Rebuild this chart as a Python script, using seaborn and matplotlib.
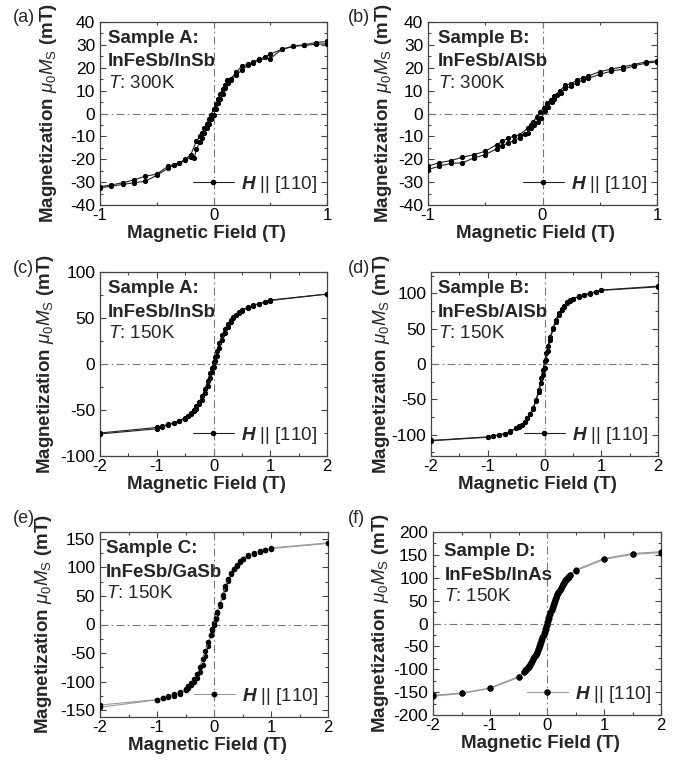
import pandas as pd
import seaborn as sns
import matplotlib.pyplot as plt
from matplotlib.lines import Line2D
from matplotlib.ticker import MultipleLocator

sns.set_style('ticks')
plt.rcParams['font.family'] = ['Liberation Sans', 'DejaVu Sans']
plt.rcParams['axes.unicode_minus'] = False
plt.rcParams['mathtext.fontset'] = 'custom'
plt.rcParams['mathtext.rm'] = 'Liberation Sans'
plt.rcParams['mathtext.it'] = 'Liberation Sans:italic'
plt.rcParams['mathtext.bf'] = 'Liberation Sans:bold'
plt.rcParams['mathtext.bfit'] = 'Liberation Sans:bold:italic'

# --- (a) Sample A, 300 K ---
H_a_dn = [1.0, 0.9, 0.8, 0.7, 0.6, 0.5, 0.45, 0.4, 0.35, 0.3, 0.25, 0.2, 0.15, 0.12, 0.1, 0.08, 0.06, 0.04, 0.02, 0.0,
          -0.02, -0.04, -0.06, -0.08, -0.1, -0.12, -0.15, -0.2, -0.25, -0.3, -0.35, -0.4, -0.5, -0.6, -0.7, -0.8, -0.9, -1.0]
M_a_dn = [31.5, 31.0, 30.0, 29.5, 28.0, 26.0, 24.5, 23.8, 22.5, 21.5, 20.8, 18.0, 15.0, 14.5, 12.5, 10.5, 8.5, 6.5, 4.0, 2.0,
          -0.5, -2.5, -4.5, -6.5, -8.5, -10.0, -12.0, -18.0, -20.0, -21.5, -22.3, -23.0, -26.5, -27.4, -29.0, -30.3, -31.2, -32.0]
H_a_up = [-1.0, -0.9, -0.8, -0.7, -0.6, -0.5, -0.4, -0.35, -0.3, -0.25, -0.2, -0.17, -0.15, -0.12, -0.1, -0.08, -0.06, -0.04, -0.02,
          0.0, 0.02, 0.04, 0.06, 0.08, 0.1, 0.13, 0.15, 0.2, 0.25, 0.3, 0.35, 0.4, 0.5, 0.6, 0.7, 0.8, 0.9, 1.0]
M_a_up = [-32.5, -31.8, -31.0, -30.3, -29.6, -27.0, -24.0, -22.5, -21.8, -20.5, -19.0, -19.4, -15.5, -12.5, -10.5, -8.5, -6.5, -4.5, -2.5,
          -0.5, 2.0, 4.5, 6.5, 8.5, 11.0, 13.5, 14.8, 16.8, 19.0, 21.0, 22.0, 23.5, 24.0, 28.0, 29.3, 29.8, 30.2, 30.5]

# --- (b) Sample B, 300 K ---
H_b_dn = [1.0, 0.9, 0.8, 0.7, 0.6, 0.5, 0.4, 0.35, 0.3, 0.25, 0.2, 0.15, 0.1, 0.07, 0.04, 0.01, -0.02, -0.05, -0.08, -0.1,
          -0.13, -0.2, -0.25, -0.3, -0.35, -0.4, -0.5, -0.6, -0.7, -0.8, -0.9, -1.0]
M_b_dn = [23.0, 22.6, 21.4, 20.4, 19.4, 18.3, 16.4, 15.6, 14.6, 13.0, 12.5, 9.8, 7.6, 6.0, 4.5, 2.5, 0.5, -1.5, -3.5, -5.0,
          -6.4, -9.3, -10.0, -10.7, -12.2, -13.6, -16.5, -18.0, -19.1, -20.6, -21.5, -23.0]
H_b_up = [-1.0, -0.9, -0.8, -0.7, -0.6, -0.5, -0.4, -0.35, -0.3, -0.25, -0.2, -0.15, -0.13, -0.1, -0.07, -0.04, -0.01,
          0.02, 0.05, 0.08, 0.1, 0.13, 0.16, 0.2, 0.25, 0.3, 0.35, 0.4, 0.5, 0.6, 0.7, 0.8, 0.9, 1.0]
M_b_up = [-24.5, -23.0, -21.8, -21.6, -19.4, -18.0, -15.4, -14.0, -13.0, -11.9, -10.5, -9.0, -8.5, -6.5, -5.0, -3.5, -2.0,
          1.0, 3.0, 5.0, 6.5, 8.0, 9.0, 11.0, 12.0, 13.5, 14.5, 15.4, 17.1, 18.5, 19.4, 20.8, 22.0, 22.5]

# --- (c) Sample A, 150 K ---
H_c_dn = [2.0, 1.0, 0.9, 0.8, 0.7, 0.6, 0.5, 0.45, 0.4, 0.35, 0.3, 0.25, 0.2, 0.15, 0.1, 0.06, 0.03, 0.0,
          -0.03, -0.06, -0.1, -0.15, -0.2, -0.25, -0.3, -0.35, -0.4, -0.45, -0.5, -0.6, -0.7, -0.8, -0.9, -1.0, -2.0]
M_c_dn = [76, 69.5, 67.5, 65.5, 64, 61.5, 59, 56, 53.5, 51, 48, 43, 38, 31, 22.5, 14, 8, 2,
          -4, -10, -18, -27, -35, -41, -46, -50, -53.5, -56, -58.5, -61.5, -64, -65.5, -67.5, -69, -75]
H_c_up = [-2.0, -1.0, -0.9, -0.8, -0.7, -0.6, -0.5, -0.45, -0.4, -0.35, -0.3, -0.25, -0.2, -0.15, -0.1, -0.06, -0.03, 0.0,
          0.03, 0.06, 0.1, 0.15, 0.2, 0.25, 0.3, 0.35, 0.4, 0.45, 0.5, 0.6, 0.7, 0.8, 0.9, 1.0, 2.0]
M_c_up = [-76, -70.5, -68, -66, -64.5, -62, -59.5, -57, -54, -51.5, -48.5, -44, -39, -32, -23.5, -15, -9, -3,
          3, 9, 17, 26, 34, 40.5, 45.5, 50, 53, 55.5, 58, 61, 63.5, 65.5, 67, 69, 76]

# --- (d) Sample B, 150 K ---
H_d_dn = [2.0, 1.0, 0.9, 0.8, 0.7, 0.6, 0.5, 0.45, 0.4, 0.35, 0.3, 0.25, 0.2, 0.15, 0.1, 0.06, 0.03, 0.0,
          -0.03, -0.06, -0.1, -0.15, -0.2, -0.25, -0.3, -0.35, -0.4, -0.45, -0.5, -0.6, -0.7, -0.8, -0.9, -1.0, -2.0]
M_d_dn = [110, 104.5, 102, 100, 98, 95.5, 92.5, 90, 87, 81.5, 77.5, 71.5, 62, 51, 38, 26, 15, 4,
          -8, -20, -37, -51, -62, -70, -76.5, -81.5, -85.5, -88, -90.5, -95, -98.5, -100, -101.5, -103, -108]
H_d_up = [-2.0, -1.0, -0.9, -0.8, -0.7, -0.6, -0.5, -0.45, -0.4, -0.35, -0.3, -0.25, -0.2, -0.15, -0.1, -0.06, -0.03, 0.0,
          0.03, 0.06, 0.1, 0.15, 0.2, 0.25, 0.3, 0.35, 0.4, 0.45, 0.5, 0.6, 0.7, 0.8, 0.9, 1.0, 2.0]
M_d_up = [-108.5, -103.5, -102, -100.5, -98.5, -95.5, -91, -88.5, -86, -82, -77, -71, -63, -52, -39, -27, -16, -5,
          6, 18, 34, 49, 60, 69, 76, 80.5, 86, 89, 92, 95, 97.5, 99.5, 101.5, 104, 109]

# --- (e) Sample C, 150 K ---
H_e_dn = [2.0, 1.0, 0.9, 0.8, 0.7, 0.6, 0.5, 0.45, 0.4, 0.35, 0.3, 0.25, 0.2, 0.15, 0.1, 0.06, 0.03, 0.0,
          -0.03, -0.06, -0.1, -0.15, -0.2, -0.25, -0.3, -0.35, -0.4, -0.45, -0.5, -0.6, -0.7, -0.8, -0.9, -1.0, -2.0]
M_e_dn = [143, 134, 131, 128.5, 125, 121.5, 115.5, 111, 104, 96.5, 89, 77, 62, 48, 33, 21, 11, 2,
          -8, -19, -37, -56, -71, -84, -94, -101, -106, -111, -115.5, -121.5, -124.5, -127, -129.5, -132, -145]
H_e_up = [-2.0, -1.0, -0.9, -0.8, -0.7, -0.6, -0.5, -0.45, -0.4, -0.35, -0.3, -0.25, -0.2, -0.15, -0.1, -0.06, -0.03, 0.0,
          0.03, 0.06, 0.1, 0.15, 0.2, 0.25, 0.3, 0.35, 0.4, 0.45, 0.5, 0.6, 0.7, 0.8, 0.9, 1.0, 2.0]
M_e_up = [-141, -131.5, -128, -125.5, -122.5, -119, -113, -108, -102, -95, -87, -75, -60, -46, -31, -19, -9, 0,
          10, 22, 36, 51, 68, 80, 90, 97, 103, 109, 114, 120.5, 124, 127, 130, 133, 142]

# --- (f) Sample D, 150 K ---
H_f_dn = [2.0, 1.5, 1.0, 0.5, 0.4, 0.38, 0.36, 0.34, 0.32, 0.3, 0.28, 0.26, 0.24, 0.22, 0.2, 0.18, 0.16, 0.14, 0.12, 0.1,
          0.08, 0.06, 0.04, 0.02, 0.0, -0.02, -0.04, -0.06, -0.08, -0.1, -0.12, -0.14, -0.16, -0.18, -0.2, -0.22, -0.24,
          -0.26, -0.28, -0.3, -0.32, -0.34, -0.36, -0.38, -0.4, -0.5, -1.0, -1.5, -2.0]
M_f_dn = [157, 153, 142, 117, 107, 104, 101, 98, 94.5, 91, 87, 83, 78.5, 74, 69, 64, 58.5, 52.5, 46.5, 40,
          33, 26, 18.5, 11, 3, -5, -13, -21, -29, -36.5, -43.5, -50, -56, -62, -67.5, -72.5, -77,
          -81.5, -85.5, -89, -92.5, -96, -99, -102, -105, -116, -141, -152, -157]
H_f_up = [-2.0, -1.5, -1.0, -0.5, -0.4, -0.38, -0.36, -0.34, -0.32, -0.3, -0.28, -0.26, -0.24, -0.22, -0.2, -0.18, -0.16,
          -0.14, -0.12, -0.1, -0.08, -0.06, -0.04, -0.02, 0.0, 0.02, 0.04, 0.06, 0.08, 0.1, 0.12, 0.14, 0.16, 0.18, 0.2,
          0.22, 0.24, 0.26, 0.28, 0.3, 0.32, 0.34, 0.36, 0.38, 0.4, 0.5, 1.0, 1.5, 2.0]
M_f_up = [-159, -153, -142, -118, -107, -104, -101, -98, -94.5, -91, -87, -83, -78.5, -74, -69, -64, -58.5,
          -52.5, -46.5, -40, -33, -26, -18.5, -11, -3, 5, 13, 21, 29, 36.5, 43.5, 50, 56, 62, 67.5,
          72.5, 77, 81.5, 85.5, 89, 92.5, 96, 99, 102, 105, 115, 140, 151, 155]

panel_tags = ['(a)', '(b)', '(c)', '(d)', '(e)', '(f)']
samples = ['Sample A:', 'Sample B:', 'Sample A:', 'Sample B:', 'Sample C:', 'Sample D:']
structures = ['InFeSb/InSb', 'InFeSb/AlSb', 'InFeSb/InSb', 'InFeSb/AlSb', 'InFeSb/GaSb', 'InFeSb/InAs']
temps = ['300K', '300K', '150K', '150K', '150K', '150K']
xlims = [(-1, 1), (-1, 1), (-2, 2), (-2, 2), (-2, 2), (-2, 2)]
ylims = [(-40, 40), (-40, 40), (-100, 100), (-130, 130), (-162, 162), (-200, 200)]
yticks_major = [10, 10, 50, 50, 50, 50]
yticks_minor = [5, 5, 25, 25, 25, 25]
loops = [(H_a_dn, M_a_dn, H_a_up, M_a_up), (H_b_dn, M_b_dn, H_b_up, M_b_up),
         (H_c_dn, M_c_dn, H_c_up, M_c_up), (H_d_dn, M_d_dn, H_d_up, M_d_up),
         (H_e_dn, M_e_dn, H_e_up, M_e_up), (H_f_dn, M_f_dn, H_f_up, M_f_up)]

# layout in pixels (left, top, right, bottom) of a 689x762 canvas
boxes = [(100, 22, 327, 205), (428, 22, 657, 205),
         (100, 272, 327, 456), (431, 272, 658, 456),
         (100, 532, 328, 717), (433, 532, 661, 715)]
ylabel_x = [-0.18, -0.148, -0.194, -0.172, -0.2, -0.184]
text_x = [0.035, 0.044, 0.035, 0.03, 0.026, 0.05]
text_dy = [0, 0, 0, 0, 0, -0.02]
line_colors = ['#222222', '#222222', '#222222', '#222222', '#999999', '#999999']
marker_sizes = [3.0, 3.0, 3.0, 3.0, 3.2, 3.7]
tag_pos = [(13, 9), (348, 9), (13, 260), (348, 260), (13, 510), (348, 510)]

W, Hh = 689, 762
fig = plt.figure(figsize=(W / 100, Hh / 100), dpi=100)

for i in range(6):
    l, t, r, b = boxes[i]
    ax = fig.add_axes([l / W, 1 - b / Hh, (r - l) / W, (b - t) / Hh])
    h_dn, m_dn, h_up, m_up = loops[i]
    df = pd.concat([pd.DataFrame({'H': h_dn, 'M': m_dn, 'branch': 'down'}),
                    pd.DataFrame({'H': h_up, 'M': m_up, 'branch': 'up'})], ignore_index=True)
    lc = line_colors[i]
    ms = marker_sizes[i]

    ax.axhline(0, color='#777777', lw=0.8, ls=(0, (7, 3, 1.5, 3)), zorder=1)
    ax.axvline(0, color='#777777', lw=0.8, ls=(0, (7, 3, 1.5, 3)), zorder=1)
    sns.lineplot(data=df, x='H', y='M', units='branch', estimator=None, sort=False,
                 color=lc, lw=0.8, marker='o', markersize=ms, markerfacecolor='k',
                 markeredgecolor='k', legend=False, ax=ax, zorder=3)

    ax.set_xlim(*xlims[i])
    ax.set_ylim(*ylims[i])
    ax.xaxis.set_major_locator(MultipleLocator(1))
    ax.xaxis.set_minor_locator(MultipleLocator(0.5))
    ax.yaxis.set_major_locator(MultipleLocator(yticks_major[i]))
    ax.yaxis.set_minor_locator(MultipleLocator(yticks_minor[i]))
    ax.tick_params(which='both', direction='in', top=True, right=True, color='#444444',
                   labelsize=12.5, labelcolor='k', width=0.8)
    ax.tick_params(axis='x', pad=2, labelsize=12)
    ax.tick_params(which='major', length=4)
    ax.tick_params(which='minor', length=2.5)
    for sp in ax.spines.values():
        sp.set_color('#444444')
        sp.set_linewidth(0.9)

    ax.set_xlabel('Magnetic Field (T)', fontsize=13.5, fontweight='bold')
    ax.set_ylabel(r'Magnetization $\mu_0\mathit{M}_\mathrm{S}$ (mT)', fontsize=13.5, fontweight='bold')
    ax.xaxis.set_label_coords(0.47, -0.11)
    ax.yaxis.set_label_coords(ylabel_x[i], 0.5)

    tx = text_x[i]
    dy = text_dy[i]
    ax.text(tx, 0.887 + dy, samples[i], transform=ax.transAxes, fontsize=13.5,
            fontweight='bold', va='baseline')
    ax.text(tx, 0.758 + dy, structures[i], transform=ax.transAxes, fontsize=13.5,
            fontweight='bold', va='baseline')
    ax.text(tx, 0.641 + dy, r'$\mathit{T}$: ' + temps[i], transform=ax.transAxes,
            fontsize=13.5, va='baseline')

    handle = Line2D([0], [0], color=lc, lw=0.8, marker='o', markersize=ms,
                    markerfacecolor='k', markeredgecolor='k')
    ax.legend(handles=[handle], labels=[r'$\mathbfit{H}$ || [110]'], loc='lower right',
              frameon=False, fontsize=13.5, handlelength=2.2, handletextpad=0.35,
              borderaxespad=0.25, borderpad=0.3)

    fig.text(tag_pos[i][0] / W, 1 - tag_pos[i][1] / Hh, panel_tags[i], fontsize=13, va='top')

fig.savefig('out.png', dpi=100)
